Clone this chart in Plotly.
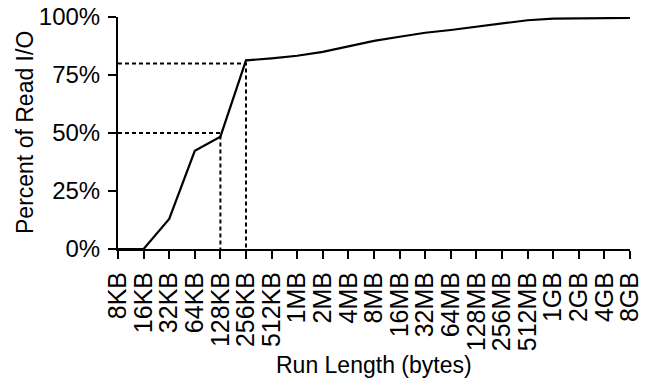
import plotly.graph_objects as go

run_lengths = ["8KB", "16KB", "32KB", "64KB", "128KB", "256KB", "512KB", "1MB", "2MB",
               "4MB", "8MB", "16MB", "32MB", "64MB", "128MB", "256MB", "512MB", "1GB",
               "2GB", "4GB", "8GB"]
percent_read_io = [0, 0, 13.0, 42.3, 48.4, 81.3, 82.2, 83.3, 85.0, 87.2, 89.7, 91.5,
                   93.2, 94.4, 95.8, 97.3, 98.6, 99.3, 99.4, 99.5, 99.6]
ref_levels = [50, 80]
ref_categories = ["128KB", "256KB"]
y_tickvals = [0, 25, 50, 75, 100]
y_ticktext = ["0%", "25%", "50%", "75%", "100%"]

FONT = "Liberation Sans, Arial, Helvetica, sans-serif"
xs = list(range(len(run_lengths)))

fig = go.Figure()
for lvl, cat in zip(ref_levels, ref_categories):
    xi = run_lengths.index(cat)
    fig.add_trace(go.Scatter(
        x=[0, xi, xi], y=[lvl, lvl, 0], mode="lines",
        line=dict(color="black", width=2, dash="4px,3px"),
        hoverinfo="skip", showlegend=False, cliponaxis=False))

fig.add_trace(go.Scatter(
    x=xs, y=percent_read_io, mode="lines",
    line=dict(color="black", width=2.2),
    showlegend=False, cliponaxis=False))

# the page body has an 8px margin, so the figure is 8px smaller and margins shifted
fig.update_layout(
    width=641, height=374,
    margin=dict(l=110, r=19, t=9, b=133, autoexpand=False),
    paper_bgcolor="white", plot_bgcolor="white",
    font=dict(family=FONT, size=22, color="black"),
    xaxis=dict(
        range=[0, len(run_lengths) - 1], automargin=False,
        tickmode="array", tickvals=xs, ticktext=run_lengths,
        tickangle=-90, ticks="outside", ticklen=8, tickwidth=2, tickcolor="black",
        showline=True, linecolor="black", linewidth=2,
        showgrid=False, zeroline=False, ticklabeloverflow="allow",
        ticklabelstandoff=3,
        tickfont=dict(family=FONT, size=25),
    ),
    yaxis=dict(
        range=[0, 100], automargin=False,
        tickmode="array", tickvals=y_tickvals, ticktext=y_ticktext,
        ticks="outside", ticklen=8, tickwidth=2, tickcolor="black",
        showline=True, linecolor="black", linewidth=2,
        showgrid=False, zeroline=False, ticklabeloverflow="allow",
        ticklabelstandoff=3,
        tickfont=dict(family=FONT, size=24),
    ),
    annotations=[
        dict(text="Run Length (bytes)", xref="paper", yref="paper", x=0.5, y=0,
             yshift=-116, xanchor="center", yanchor="middle", showarrow=False,
             font=dict(family=FONT, size=23)),
        dict(text="Percent of Read I/O", xref="paper", yref="paper", x=0, y=0.5,
             xshift=-93, xanchor="center", yanchor="middle", textangle=-90,
             showarrow=False, font=dict(family=FONT, size=23)),
    ],
)

fig.write_html("out.html")
